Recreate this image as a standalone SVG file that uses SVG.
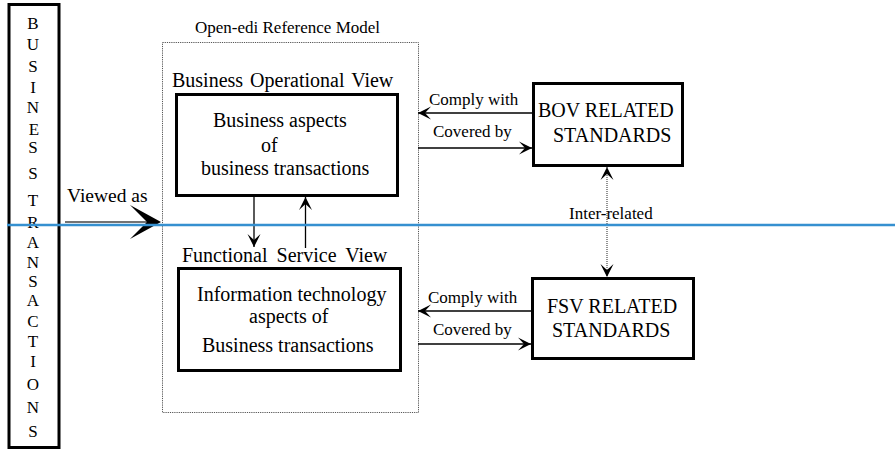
<svg xmlns="http://www.w3.org/2000/svg" width="895" height="452" viewBox="0 0 895 452" font-family="'Liberation Serif', 'Times New Roman', 'DejaVu Serif', serif">
<style>
text{font-family:'Liberation Serif','Times New Roman','DejaVu Serif',serif;fill:#000}
.t17{font-size:17px}
.t20{font-size:20px}
.col{font-size:17px;text-anchor:middle}
.box{fill:#fff;stroke:#000;stroke-width:3}
.ln{fill:none;stroke:#000;stroke-width:1.3}
.dot{fill:none;stroke:#555;stroke-width:1;stroke-dasharray:1.2 1}
</style>
<defs>
<marker id="arr" viewBox="-15 -8 16 16" refX="0" refY="0" markerWidth="16" markerHeight="16" markerUnits="userSpaceOnUse" orient="auto-start-reverse">
<path d="M0,0 L-13,-6.5 L-7,0 L-13,6.5 Z" fill="#000"/>
</marker>
</defs>
<rect width="895" height="452" fill="#fff"/>

<g id="business-transactions">
<rect x="9" y="4.5" width="50" height="443" class="box"/>
<text class="col" x="33" y="29">B</text>
<text class="col" x="33" y="50">U</text>
<text class="col" x="33" y="72">S</text>
<text class="col" x="33" y="93">I</text>
<text class="col" x="33" y="113">N</text>
<text class="col" x="34" y="135">E</text>
<text class="col" x="33" y="153">S</text>
<text class="col" x="33" y="179">S</text>
<text class="col" x="33" y="206">T</text>
<text class="col" x="33" y="228">R</text>
<text class="col" x="33" y="248">A</text>
<text class="col" x="33" y="268">N</text>
<text class="col" x="33" y="287">S</text>
<text class="col" x="33" y="306">A</text>
<text class="col" x="33" y="327">C</text>
<text class="col" x="33" y="347">T</text>
<text class="col" x="33" y="367">I</text>
<text class="col" x="33" y="390">O</text>
<text class="col" x="33" y="413">N</text>
<text class="col" x="33" y="437">S</text>
</g>

<g id="open-edi-model">
<rect x="162.5" y="42.5" width="256" height="370" class="dot"/>
<text class="t17" x="195" y="33">Open-edi Reference Model</text>
</g>

<g id="bov-view">
<text class="t20" x="172" y="87" word-spacing="2">Business Operational View</text>
<rect x="176.5" y="94.5" width="221" height="101" class="box"/>
<text class="t20" x="213" y="127">Business aspects</text>
<text class="t20" x="261" y="152">of</text>
<text class="t20" x="201" y="175">business transactions</text>
</g>

<g id="fsv-view">
<text class="t20" x="182" y="262" word-spacing="4">Functional Service View</text>
<rect x="178.5" y="268.5" width="222" height="102" class="box"/>
<text class="t20" x="197" y="301">Information technology</text>
<text class="t20" x="249" y="323">aspects of</text>
<text class="t20" x="202" y="352">Business transactions</text>
</g>

<g id="bov-standards">
<rect x="533.5" y="83.5" width="149" height="82" class="box"/>
<text class="t20" x="538" y="117">BOV RELATED</text>
<text class="t20" x="553" y="142">STANDARDS</text>
</g>

<g id="fsv-standards">
<rect x="532.5" y="278.5" width="161" height="80" class="box"/>
<text class="t20" x="547" y="313">FSV RELATED</text>
<text class="t20" x="552" y="337">STANDARDS</text>
</g>

<g id="connectors">
<line x1="65" y1="222" x2="148" y2="222" stroke="#444" stroke-width="1.5"/>
<polygon points="161,222 130,205 147,222 130,239" fill="#000"/>
<text x="67" y="202" style="font-size:19.5px">Viewed as</text>

<line x1="254" y1="196" x2="254" y2="247" class="ln" marker-end="url(#arr)"/>
<line x1="305.5" y1="248" x2="305.5" y2="197" class="ln" marker-end="url(#arr)"/>

<line x1="532" y1="113" x2="418" y2="113" class="ln" marker-end="url(#arr)"/>
<line x1="418" y1="148" x2="532" y2="148" class="ln" marker-end="url(#arr)"/>
<text class="t17" x="429" y="105">Comply with</text>
<text class="t17" x="433" y="137">Covered by</text>

<line x1="531" y1="311" x2="418" y2="311" class="ln" marker-end="url(#arr)"/>
<line x1="418" y1="344" x2="531" y2="344" class="ln" marker-end="url(#arr)"/>
<text class="t17" x="428" y="303">Comply with</text>
<text class="t17" x="433" y="335">Covered by</text>

<line x1="607" y1="167" x2="607" y2="277" stroke="#777" stroke-width="1.6" stroke-dasharray="1 1" marker-start="url(#arr)" marker-end="url(#arr)"/>
<text class="t17" x="569" y="219">Inter-related</text>

<line x1="7" y1="225" x2="895" y2="225" stroke="#3590d0" stroke-width="2.5"/>
</g>
</svg>
